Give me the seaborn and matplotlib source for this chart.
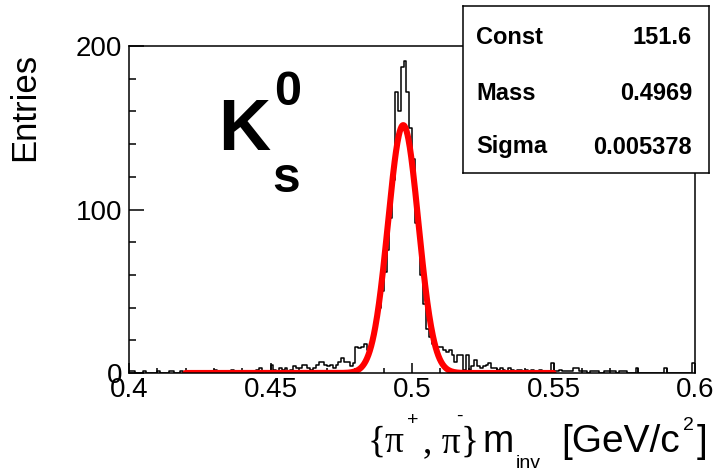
import numpy as np
import pandas as pd
import matplotlib
matplotlib.use("Agg")
import matplotlib.pyplot as plt
import seaborn as sns
from matplotlib.ticker import MultipleLocator

# ---------------- data ----------------
bin_lo = 0.400
bin_hi = 0.600
bin_width = 0.001
counts = [
    # 0.400 - 0.419
    1, 1, 0, 0, 0, 1, 0, 0, 0, 0, 1, 0, 0, 0, 1, 1, 0, 0, 1, 0,
    # 0.420 - 0.439
    0, 0, 0, 0, 0, 0, 0, 0, 0, 0, 2, 0, 0, 0, 0, 0, 2, 1, 0, 0,
    # 0.440 - 0.459
    1, 0, 1, 0, 0, 2, 3, 1, 0, 1, 5, 2, 1, 3, 2, 3, 1, 2, 4, 3,
    # 0.460 - 0.479
    3, 5, 5, 3, 2, 3, 5, 7, 7, 5, 4, 5, 3, 5, 7, 9, 7, 7, 4, 6,
    # 0.480 - 0.499
    16, 15, 16, 18, 14, 18, 24, 32, 40, 50, 62, 75, 95, 118, 172, 160, 187, 191, 172, 150,
    # 0.500 - 0.519
    131, 92, 88, 60, 42, 27, 22, 18, 16, 16, 16, 14, 13, 14, 11, 7, 11, 11, 2, 11,
    # 0.520 - 0.539
    2, 4, 8, 4, 3, 4, 5, 6, 3, 3, 2, 3, 2, 1, 3, 2, 1, 2, 2, 1,
    # 0.540 - 0.559
    2, 1, 2, 1, 1, 2, 1, 1, 1, 6, 1, 1, 2, 1, 1, 1, 1, 3, 3, 1,
    # 0.560 - 0.579
    1, 1, 0, 1, 1, 1, 0, 0, 1, 1, 1, 1, 0, 1, 1, 1, 0, 0, 0, 3,
    # 0.580 - 0.599
    0, 0, 0, 0, 0, 0, 0, 0, 0, 3, 0, 0, 0, 0, 0, 0, 0, 0, 0, 6,
]
fit_const = 151.6
fit_mass = 0.4969
fit_sigma = 0.005378
fit_range = (0.42, 0.55)

x_ticks = [0.4, 0.45, 0.5, 0.55, 0.6]
x_tick_labels = ["0.4", "0.45", "0.5", "0.55", "0.6"]
y_ticks = [0, 100, 200]
y_tick_labels = ["0", "100", "200"]
stats_names = ["Const", "Mass", "Sigma"]
stats_values = ["151.6", "0.4969", "0.005378"]

# ---------------- style ----------------
sns.set_style("ticks")
plt.rcParams["font.family"] = ["Liberation Sans", "DejaVu Sans"]
plt.rcParams["text.color"] = "black"
plt.rcParams["axes.labelcolor"] = "black"
plt.rcParams["xtick.color"] = "black"
plt.rcParams["ytick.color"] = "black"
plt.rcParams["axes.edgecolor"] = "black"

W, H = 715, 473
fig = plt.figure(figsize=(W / 100, H / 100), dpi=100)
fig.patch.set_facecolor("white")


def fx(px):
    return px / W


def fy(py):
    return 1 - py / H


ax = fig.add_axes([fx(129), fy(373), (695 - 129) / W, (373 - 46) / H])
ax.set_facecolor("white")

n = len(counts)
centers = bin_lo + bin_width * (np.arange(n) + 0.5)
hist_df = pd.DataFrame({"m": centers, "n": counts})
sns.histplot(data=hist_df, x="m", weights="n", binwidth=bin_width,
             binrange=(bin_lo, bin_hi), element="step",
             fill=False, color="black", linewidth=1.1, ax=ax)

xs = np.linspace(fit_range[0], fit_range[1], 800)
fit_df = pd.DataFrame({"m": xs,
                       "f": fit_const * np.exp(-0.5 * ((xs - fit_mass) / fit_sigma) ** 2)})
sns.lineplot(data=fit_df, x="m", y="f", color="#ff0000", linewidth=4.4, ax=ax)

ax.set_xlim(0.4, 0.6)
ax.set_ylim(0, 200)
ax.set_xlabel("")
ax.set_ylabel("")
ax.set_xticks(x_ticks, x_tick_labels)
ax.set_yticks(y_ticks, y_tick_labels)
ax.xaxis.set_minor_locator(MultipleLocator(0.01))
ax.yaxis.set_minor_locator(MultipleLocator(20))
ax.tick_params(axis="x", which="major", direction="in", length=7, width=1.1,
               labelsize=20, pad=3, top=False, color="black", labelcolor="black")
ax.tick_params(axis="x", which="minor", direction="in", length=3.6, width=1.1,
               top=False, color="black")
ax.tick_params(axis="y", which="major", direction="in", length=11, width=1.1,
               labelsize=20, pad=5, right=False, color="black", labelcolor="black")
ax.tick_params(axis="y", which="minor", direction="in", length=5, width=1.1,
               right=False, color="black")
for s in ax.spines.values():
    s.set_visible(True)
    s.set_color("black")
    s.set_linewidth(1.1)

# y title
fig.text(fx(25), fy(53), "Entries", rotation=90, ha="center", va="top", fontsize=25)

# x title built from pieces (ROOT-like layout)
serif = ["Liberation Serif", "DejaVu Serif"]
base = 452
fig.text(fx(368), fy(base), "{\u03c0", fontsize=27, family=serif, va="baseline", ha="left")
fig.text(fx(407), fy(425), "+", fontsize=14, va="baseline", ha="left")
fig.text(fx(423), fy(base), ", \u03c0", fontsize=27, family=serif, va="baseline", ha="left")
fig.text(fx(456), fy(421), "-", fontsize=14, va="baseline", ha="left")
fig.text(fx(461), fy(base), "}", fontsize=27, family=serif, va="baseline", ha="left")
fig.text(fx(482), fy(base), "m", fontsize=27, va="baseline", ha="left")
fig.text(fx(516), fy(468), "inv", fontsize=14, va="baseline", ha="left")
fig.text(fx(561), fy(base), "[GeV/c", fontsize=28, va="baseline", ha="left")
fig.text(fx(683), fy(430), "2", fontsize=14, va="baseline", ha="left")
fig.text(fx(697), fy(base), "]", fontsize=28, va="baseline", ha="left")

# K_s^0 label
fig.text(fx(218), fy(150), "K", fontsize=52, fontweight="bold", va="baseline", ha="left")
fig.text(fx(274), fy(105), "0", fontsize=35, fontweight="bold", va="baseline", ha="left")
fig.text(fx(272), fy(192), "s", fontsize=36, fontweight="bold", va="baseline", ha="left")

# stats box
bx = fig.add_axes([fx(463), fy(173), (709 - 463) / W, (173 - 6) / H])
bx.set_facecolor("white")
bx.set_xticks([])
bx.set_yticks([])
for s in bx.spines.values():
    s.set_visible(True)
    s.set_color("black")
    s.set_linewidth(1.1)
row_y = [38, 93, 147]
for name, val, ry in zip(stats_names, stats_values, row_y):
    fig.text(fx(476), fy(ry), name, fontsize=17, fontweight="bold", va="center", ha="left")
    fig.text(fx(692), fy(ry), val, fontsize=17, fontweight="bold", va="center", ha="right")

fig.savefig("out.png", dpi=100, facecolor="white")
